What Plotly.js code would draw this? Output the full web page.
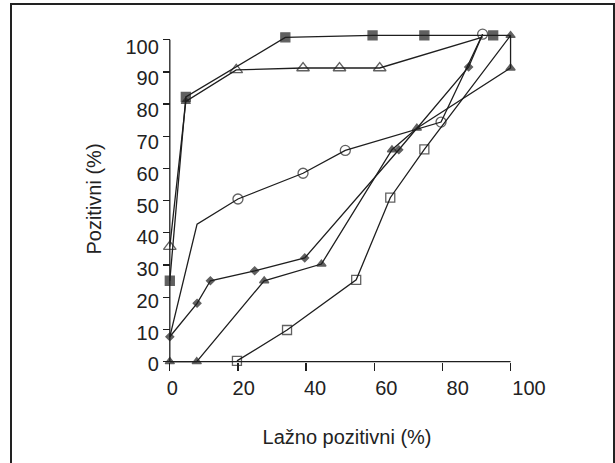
<!DOCTYPE html>
<html><head><meta charset="utf-8">
<script src="https://cdn.plot.ly/plotly-3.0.1.min.js"></script>
<style>
html,body{margin:0;padding:0;background:#fff;overflow:hidden;width:615px;height:463px;}
#chart{position:absolute;left:0;top:0;width:615px;height:463px;}
#frame{position:absolute;left:10px;top:3px;width:601px;height:520px;border:2px solid #222;pointer-events:none;}
</style></head>
<body><div id="chart"></div><div id="frame"></div>
<script>
// ---- data ----
const squareFilledX = [0, 4.7, 33.9, 59.5, 74.7, 94.9, 100];
const squareFilledY = [25.1, 82.2, 100.7, 101.3, 101.3, 101.3, 101.3];
const triangleOpenX = [0, 4.7, 19.5, 39.1, 49.8, 61.6, 91.8];
const triangleOpenY = [35.7, 80.8, 90.6, 91.2, 91.2, 91.2, 100.8];
const circleX = [0, 8.0, 20.0, 39.1, 51.5, 79.6, 91.8];
const circleY = [7.7, 42.7, 50.5, 58.5, 65.6, 74.4, 101.7];
const diamondX = [0, 8.0, 11.9, 24.9, 39.6, 67.2, 87.7, 91.8];
const diamondY = [7.7, 18.1, 25.1, 28.2, 32.2, 65.8, 91.5, 101.7];
const triangleFilledX = [0, 7.9, 27.7, 44.5, 65.2, 72.5, 100, 100];
const triangleFilledY = [0, 0, 25.1, 30.3, 65.8, 72.5, 91.2, 101.3];
const squareOpenX = [19.7, 34.4, 54.7, 64.7, 74.7, 100];
const squareOpenY = [0.2, 9.8, 25.4, 50.9, 65.9, 101.3];

const xTickVals = [0, 20, 40, 60, 80, 100];
const xTickText = ['0', '20', '40', '60', '80', '100'];
const yTickVals = [0, 10, 20, 30, 40, 50, 60, 70, 80, 90, 100];
const yTickText = ['0', '10', '20', '30', '40', '50', '60', '70', '80', '90', '100'];
const xTitle = 'Lažno pozitivni (%)';
const yTitle = 'Pozitivni (%)';

// ---- styles ----
const INK = '#1e1e1e';
const LW = 1.3;
const FONT = 'Liberation Sans, Arial, sans-serif';

function series(x, y, symbol, size) {
  return {
    type: 'scatter', mode: 'lines+markers', x: x, y: y, cliponaxis: false,
    line: {color: INK, width: LW},
    marker: {symbol: symbol, size: size, color: INK, line: {color: INK, width: 1.3}},
    showlegend: false, hoverinfo: 'x+y'
  };
}

const lastHidden = (arr, s) => arr.map((_, i) => i === arr.length - 1 ? 0 : s);

const traces = [
  series(squareOpenX, squareOpenY, 'square-open', lastHidden(squareOpenX, 9)),
  series(circleX, circleY, 'circle-open', circleX.map((_, i) => i < 2 ? 0 : 10)),
  series(diamondX, diamondY, 'diamond', lastHidden(diamondX, 6)),
  series(triangleFilledX, triangleFilledY, 'triangle-up', triangleFilledX.map(() => 8)),
  series(triangleOpenX, triangleOpenY,
    triangleOpenX.map((_, i) => i === 1 ? 'triangle-up' : 'triangle-up-open'),
    triangleOpenX.map((_, i) => i === 1 ? 8 : (i === triangleOpenX.length - 1 ? 0 : 11))),
  series(squareFilledX, squareFilledY, 'square', lastHidden(squareFilledX, 9)),
  // carrier trace for the label axes
  {type: 'scatter', mode: 'markers', x: [null], y: [null], xaxis: 'x2', yaxis: 'y2', showlegend: false, hoverinfo: 'skip'}
];

// plot-area geometry (main axes)
const XR = [-2, 106], YR = [-2, 103];
const ML = 163, MR = 84, MT = 30, MB = 95;
const W = 615, H = 463;
const pw = W - ML - MR, ph = H - MT - MB;
// tick-label axes: label positions in the reference sit on a slightly different scale than the ticks
const labX0 = 172.4, labXk = 3.5654;
const labY0 = 364.4, labYk = 3.1776;
const x2range = [(ML - labX0) / labXk, (ML + pw - labX0) / labXk];
const y2range = [(labY0 - (MT + ph)) / labYk, (labY0 - MT) / labYk];
const xPos = (0 - YR[0]) / (YR[1] - YR[0]);
const yPos = (0 - XR[0]) / (XR[1] - XR[0]);

const tickFont = {family: FONT, size: 20, color: '#222'};
const titleFont = {family: FONT, size: 20, color: '#222'};

const layout = {
  width: W, height: H,
  margin: {l: ML, r: MR, t: MT, b: MB, pad: 0},
  paper_bgcolor: '#fff', plot_bgcolor: 'rgba(0,0,0,0)',
  font: {family: FONT, color: '#222'},
  xaxis: {
    range: XR, anchor: 'free', position: xPos,
    showline: false, zeroline: false, showgrid: false,
    ticks: 'outside', ticklen: 8, tickwidth: LW, tickcolor: INK,
    tickvals: xTickVals, showticklabels: false,
    title: {text: xTitle, font: titleFont, standoff: 60}
  },
  yaxis: {
    range: YR, anchor: 'free', position: yPos,
    showline: false, zeroline: false, showgrid: false,
    ticks: 'outside', ticklen: 7, tickwidth: LW, tickcolor: INK,
    tickvals: yTickVals, showticklabels: false,
    title: {text: yTitle, font: titleFont, standoff: 54}
  },
  xaxis2: {
    overlaying: 'x', anchor: 'free', position: xPos, range: x2range,
    showline: false, zeroline: false, showgrid: false,
    ticks: 'outside', ticklen: 8, tickcolor: 'rgba(0,0,0,0)',
    tickvals: xTickVals, ticktext: xTickText, tickfont: tickFont
  },
  yaxis2: {
    overlaying: 'y', anchor: 'free', position: yPos, range: y2range,
    showline: false, zeroline: false, showgrid: false,
    ticks: 'outside', ticklen: 7, tickcolor: 'rgba(0,0,0,0)',
    tickvals: yTickVals, ticktext: yTickText, tickfont: tickFont
  },
  shapes: [
    {type: 'line', xref: 'x', yref: 'y', x0: 0, x1: 100, y0: 0, y1: 0, layer: 'below', line: {color: INK, width: LW}},
    {type: 'line', xref: 'x', yref: 'y', x0: 0, x1: 0, y0: 0, y1: 100, layer: 'below', line: {color: INK, width: LW}}
  ]
};

Plotly.newPlot('chart', traces, layout, {displayModeBar: false, staticPlot: true});
</script>
</body></html>
